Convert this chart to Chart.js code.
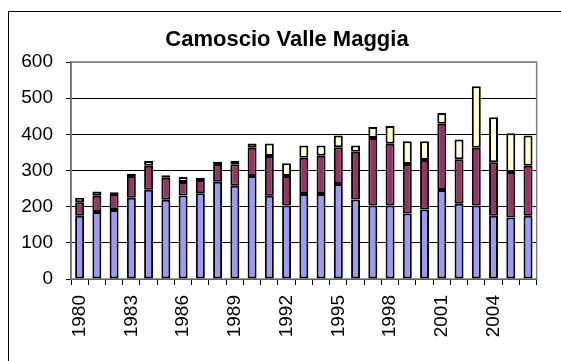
<!DOCTYPE html>
<html>
<head>
<meta charset="utf-8">
<script src="https://cdn.jsdelivr.net/npm/chart.js@4/dist/chart.umd.min.js"></script>
<style>
  html, body { margin: 0; padding: 0; background: #fff; overflow: hidden; }
  #wrap { position: relative; width: 561px; height: 361px; }
  #frame {
    position: absolute; left: 8px; top: 11px;
    width: 700px; height: 500px; border: 1px solid #000;
  }
  #chart { position: absolute; left: 0; top: 0; }
</style>
</head>
<body>
<div id="wrap">
  <div id="frame"></div>
  <canvas id="chart" width="561" height="361"></canvas>
</div>
<script>
const TITLE = "Camoscio Valle Maggia";
const years = [
  "1980", "1981", "1982", "1983", "1984", "1985", "1986", "1987", "1988",
  "1989", "1990", "1991", "1992", "1993", "1994", "1995", "1996", "1997",
  "1998", "1999", "2000", "2001", "2002", "2003", "2004", "2005", "2006",
];
const seriesBlue = [
  175, 185, 191, 225, 247, 219, 231, 237, 269,
  258, 285, 230, 203, 235, 235, 263, 220, 203,
  203, 181, 192, 246, 208, 203, 175, 170, 175,
];
const seriesRed = [
  37, 45, 44, 60, 66, 61, 37, 37, 49,
  59, 78, 110, 82, 100, 106, 101, 132, 187,
  171, 137, 137, 183, 123, 160, 148, 126, 138,
];
const seriesYellow = [
  13, 12, 5, 6, 13, 7, 14, 6, 6,
  10, 12, 35, 35, 34, 28, 33, 17, 30,
  49, 63, 52, 30, 55, 170, 124, 107, 84,
];
const yTicks = [0, 100, 200, 300, 400, 500, 600];

const FONT = "'Liberation Sans', Arial, sans-serif";

// grey frame round the plot area, under the bars
const plotBorder = {
  id: "plotBorder",
  beforeDatasetsDraw(chart) {
    const { ctx, chartArea: a } = chart;
    ctx.save();
    ctx.strokeStyle = "#808080";
    ctx.lineWidth = 1.5;
    ctx.strokeRect(a.left, a.top, a.right - a.left, a.bottom - a.top);
    ctx.restore();
  },
};

// title sits left of the plot centre, so draw it by hand
const titleText = {
  id: "titleText",
  afterDraw(chart) {
    const { ctx } = chart;
    ctx.save();
    ctx.font = `bold 22px ${FONT}`;
    ctx.fillStyle = "#000";
    ctx.textAlign = "center";
    ctx.textBaseline = "alphabetic";
    ctx.fillText(TITLE, 287, 46);
    ctx.restore();
  },
};

const barStyle = { borderColor: "#000", borderWidth: 2, borderSkipped: false };

new Chart(document.getElementById("chart"), {
  type: "bar",
  data: {
    labels: years,
    datasets: [
      { data: seriesBlue, backgroundColor: "#9999FF", ...barStyle },
      { data: seriesRed, backgroundColor: "#993366", ...barStyle },
      { data: seriesYellow, backgroundColor: "#FFFFCC", ...barStyle },
    ],
  },
  options: {
    responsive: false,
    animation: false,
    devicePixelRatio: 1,
    layout: { padding: { top: 62, right: 9, bottom: 0, left: 0 } },
    plugins: { legend: { display: false }, tooltip: { enabled: false } },
    datasets: { bar: { categoryPercentage: 1, barPercentage: 0.52 } },
    scales: {
      x: {
        stacked: true,
        afterFit(scale) { scale.height = 82; },
        border: { color: "#000", width: 1 },
        grid: {
          offset: true,
          drawOnChartArea: false,
          drawTicks: true,
          tickLength: 6,
          color: "#000",
        },
        ticks: {
          autoSkip: false,
          minRotation: 90,
          maxRotation: 90,
          padding: 10,
          color: "#000",
          font: { family: FONT, size: 19 },
          callback: (v, i) => (i % 3 === 0 ? years[i] : ""),
        },
      },
      y: {
        stacked: true,
        min: yTicks[0],
        max: yTicks[yTicks.length - 1],
        afterFit(scale) { scale.width = 71; },
        afterBuildTicks(scale) { scale.ticks = yTicks.map((v) => ({ value: v })); },
        border: { color: "#333", width: 1.5 },
        grid: {
          color: (c) => (c.tick && c.tick.value === 600 ? "#808080" : "#000"),
          lineWidth: 1,
          tickLength: 5,
          tickColor: "#000",
        },
        ticks: {
          padding: 13,
          color: "#000",
          font: { family: FONT, size: 19 },
        },
      },
    },
  },
  plugins: [plotBorder, titleText],
});
</script>
</body>
</html>
